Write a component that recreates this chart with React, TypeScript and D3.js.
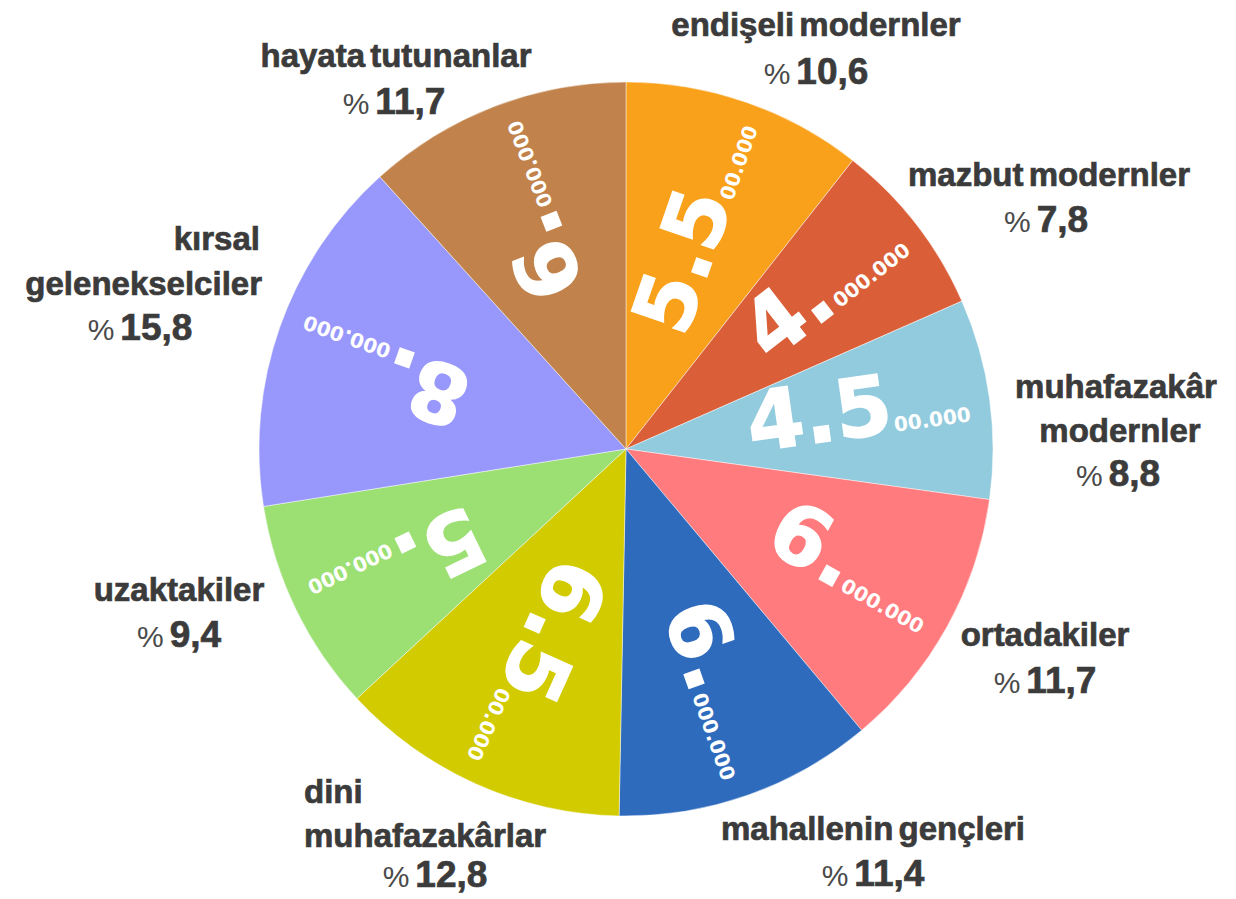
import React from 'react';
import * as d3 from 'd3';

const WIDTH = 1236;
const HEIGHT = 899;
const CX = 626;
const CY = 449;
const RADIUS = 367;
const INNER_LABEL_R = 346;

// segments, clockwise from 12 o'clock
const segments = [
  'endişeli modernler',
  'mazbut modernler',
  'muhafazakâr\nmodernler',
  'ortadakiler',
  'mahallenin gençleri',
  'dini\nmuhafazakârlar',
  'uzaktakiler',
  'kırsal\ngelenekselciler',
  'hayata tutunanlar'
];
const shares = [10.6, 7.8, 8.8, 11.7, 11.4, 12.8, 9.4, 15.8, 11.7];
const populations = [5500000, 4000000, 4500000, 6000000, 6000000, 6500000, 5000000, 8000000, 6000000];
const colors = ['#F9A11B', '#DA5F38', '#92CBDD', '#FF7B7E', '#2E6BBD', '#D2CB00', '#9CE074', '#9898FC', '#C1834B'];

// outside label placement: [x, baseline y, anchor] for each line (last one is the percentage)
const LABEL_LAYOUT = [
  [[816, 36, 'middle'], [816, 84, 'middle']],
  [[1049, 186, 'middle'], [1046, 232, 'middle']],
  [[1116, 398, 'middle'], [1120, 442, 'middle'], [1118, 486, 'middle']],
  [[1045, 646, 'middle'], [1045, 693, 'middle']],
  [[873, 840, 'middle'], [873, 886, 'middle']],
  [[304, 803, 'start'], [304, 847, 'start'], [435, 887, 'middle']],
  [[179, 601, 'middle'], [179, 647, 'middle']],
  [[260, 250, 'end'], [262, 295, 'end'], [140, 340, 'middle']],
  [[396, 67, 'middle'], [394, 114, 'middle']]
];

const LABEL_FONT = '"Liberation Sans", Arial, sans-serif';
const NUMBER_FONT = '"DejaVu Sans", Verdana, sans-serif';
const TEXT_COLOR = '#3b3b3b';

/**
 * Split 5.500.000 into a big "5.5" and a small "00.000"
 * @param  {number} v population
 * @return {string[]} [big, small]
 */
function splitPopulation(v: number) {
  let s = d3.format(',')(v).replace(/,/g, '.');
  let lead = s[2] !== '0' ? 3 : 2;
  return [s.slice(0, lead), s.slice(lead)];
}

const pctFormat = (v: number) => d3.format('.1f')(v).replace('.', ',');

export default function App() {
  let data = segments.map((name, i) => ({ name, share: shares[i], population: populations[i], color: colors[i] }));
  let pie = d3.pie<any>().value((d) => d.share).sort(null).startAngle(0).endAngle(2 * Math.PI);
  let arc = d3.arc<any>().innerRadius(0).outerRadius(RADIUS);
  let arcs = pie(data);

  return <svg width={WIDTH} height={HEIGHT} style={{ position: 'absolute', left: 0, top: 0, background: '#fff' }}>
    <g transform={`translate(${CX},${CY})`}>
      {arcs.map((d, i) =>
        <path key={i} d={arc(d) as string} fill={d.data.color} stroke='#ffffff' strokeWidth={1} strokeOpacity={0.45} />
      )}
      {arcs.map((d, i) => {
        let theta = (d.startAngle + d.endAngle) / 2;
        let x = INNER_LABEL_R * Math.sin(theta);
        let y = -INNER_LABEL_R * Math.cos(theta);
        let rot = theta * 180 / Math.PI - 90;
        let [big, small] = splitPopulation(d.data.population);
        return <text key={i} transform={`translate(${x},${y}) rotate(${rot})`} textAnchor='end' dy={20}
          fill='#fff' fontFamily={NUMBER_FONT} fontWeight='bold'>
          <tspan fontSize={82} stroke='#fff' strokeWidth={1.5}>{big}</tspan>
          <tspan fontSize={20}>{small}</tspan>
        </text>;
      })}
    </g>
    {data.map((d, i) => {
      let layout = LABEL_LAYOUT[i];
      let lines = d.name.split('\n');
      let pct = layout[layout.length - 1];
      return <g key={i} fill={TEXT_COLOR} fontFamily={LABEL_FONT}>
        {lines.map((line, j) =>
          <text key={j} x={layout[j][0]} y={layout[j][1]} textAnchor={layout[j][2] as any}
            fontSize={33} fontWeight='bold' wordSpacing={-4} stroke={TEXT_COLOR} strokeWidth={0.7}>{line}</text>
        )}
        <text x={pct[0]} y={pct[1]} textAnchor={pct[2] as any}>
          <tspan fontSize={30} fill='#4a4a4a'>%</tspan>
          <tspan fontSize={37} fontWeight='bold' dx={6} stroke={TEXT_COLOR} strokeWidth={0.7}>{pctFormat(d.share)}</tspan>
        </text>
      </g>;
    })}
  </svg>;
}
